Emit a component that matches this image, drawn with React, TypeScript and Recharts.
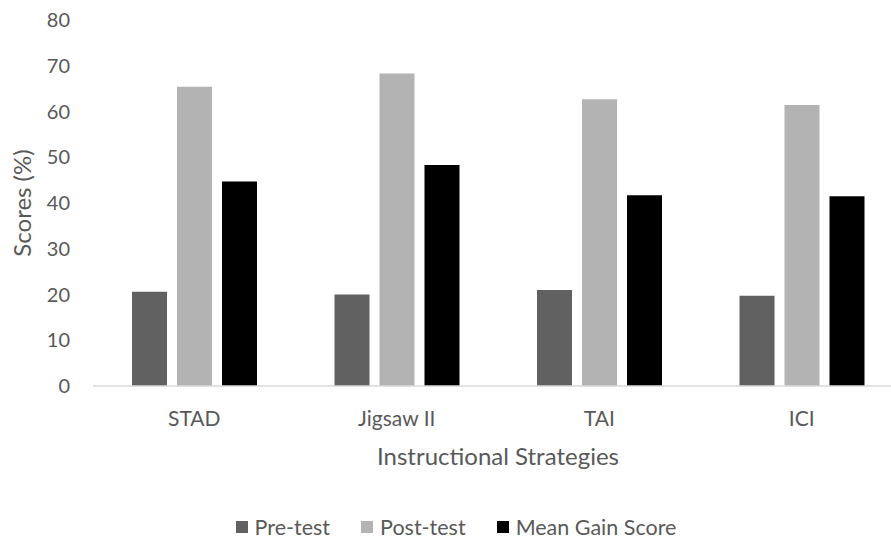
import { Bar, BarChart, Label, Legend, XAxis, YAxis } from "recharts";

const strategies = ["STAD", "Jigsaw II", "TAI", "ICI"];
const preTest = [20.6, 20.0, 21.0, 19.7];
const postTest = [65.4, 68.3, 62.7, 61.4];
const meanGain = [44.7, 48.3, 41.7, 41.5];
const yTicks = [0, 10, 20, 30, 40, 50, 60, 70, 80];

const series = [
  { key: "pre", name: "Pre-test", color: "#616161" },
  { key: "post", name: "Post-test", color: "#b3b3b3" },
  { key: "gain", name: "Mean Gain Score", color: "#000000" },
];

const data = strategies.map((name, i) => ({
  name,
  pre: preTest[i],
  post: postTest[i],
  gain: meanGain[i],
}));

const textColor = "#595959";
const font = "Lato, 'Open Sans', sans-serif";

function LegendContent() {
  return (
    <div
      style={{
        display: "flex",
        justifyContent: "center",
        gap: 31,
        paddingLeft: 9,
        fontFamily: font,
        fontSize: 21.5,
        color: textColor,
        lineHeight: "24px",
      }}
    >
      {series.map((s) => (
        <div key={s.key} style={{ display: "flex", alignItems: "center", gap: 7 }}>
          <span style={{ width: 12, height: 12, background: s.color, display: "inline-block" }} />
          <span>{s.name}</span>
        </div>
      ))}
    </div>
  );
}

export default function App() {
  return (
    <div style={{ position: "absolute", left: 0, top: 0, width: 891, height: 539, overflow: "hidden", background: "#fff" }}>
      <BarChart
        width={920}
        height={539}
        data={data}
        margin={{ top: 20, right: 17, left: 0, bottom: 0 }}
        barGap={10}
        barSize={35}
      >
        <XAxis
          dataKey="name"
          height={129}
          tickLine={false}
          tickSize={0}
          tickMargin={25}
          axisLine={{ stroke: "#d9d9d9", strokeWidth: 1.5 }}
          tick={{ fill: textColor, fontSize: 21, fontFamily: font }}
        >
          <Label
            value="Instructional Strategies"
            position="insideTop"
            offset={62}
            style={{ fill: textColor, fontSize: 24, fontFamily: font }}
          />
        </XAxis>
        <YAxis
          width={93}
          domain={[0, 80]}
          ticks={yTicks}
          axisLine={false}
          tickLine={false}
          tickSize={0}
          tickMargin={23}
          tick={{ fill: textColor, fontSize: 20, fontFamily: font }}
        >
          <Label
            value="Scores (%)"
            angle={-90}
            position="insideLeft"
            offset={22}
            style={{ fill: textColor, fontSize: 24, fontFamily: font, textAnchor: "middle" }}
          />
        </YAxis>
        <Legend verticalAlign="bottom" height={24} content={<LegendContent />} />
        {series.map((s) => (
          <Bar key={s.key} dataKey={s.key} name={s.name} fill={s.color} isAnimationActive={false} />
        ))}
      </BarChart>
    </div>
  );
}
